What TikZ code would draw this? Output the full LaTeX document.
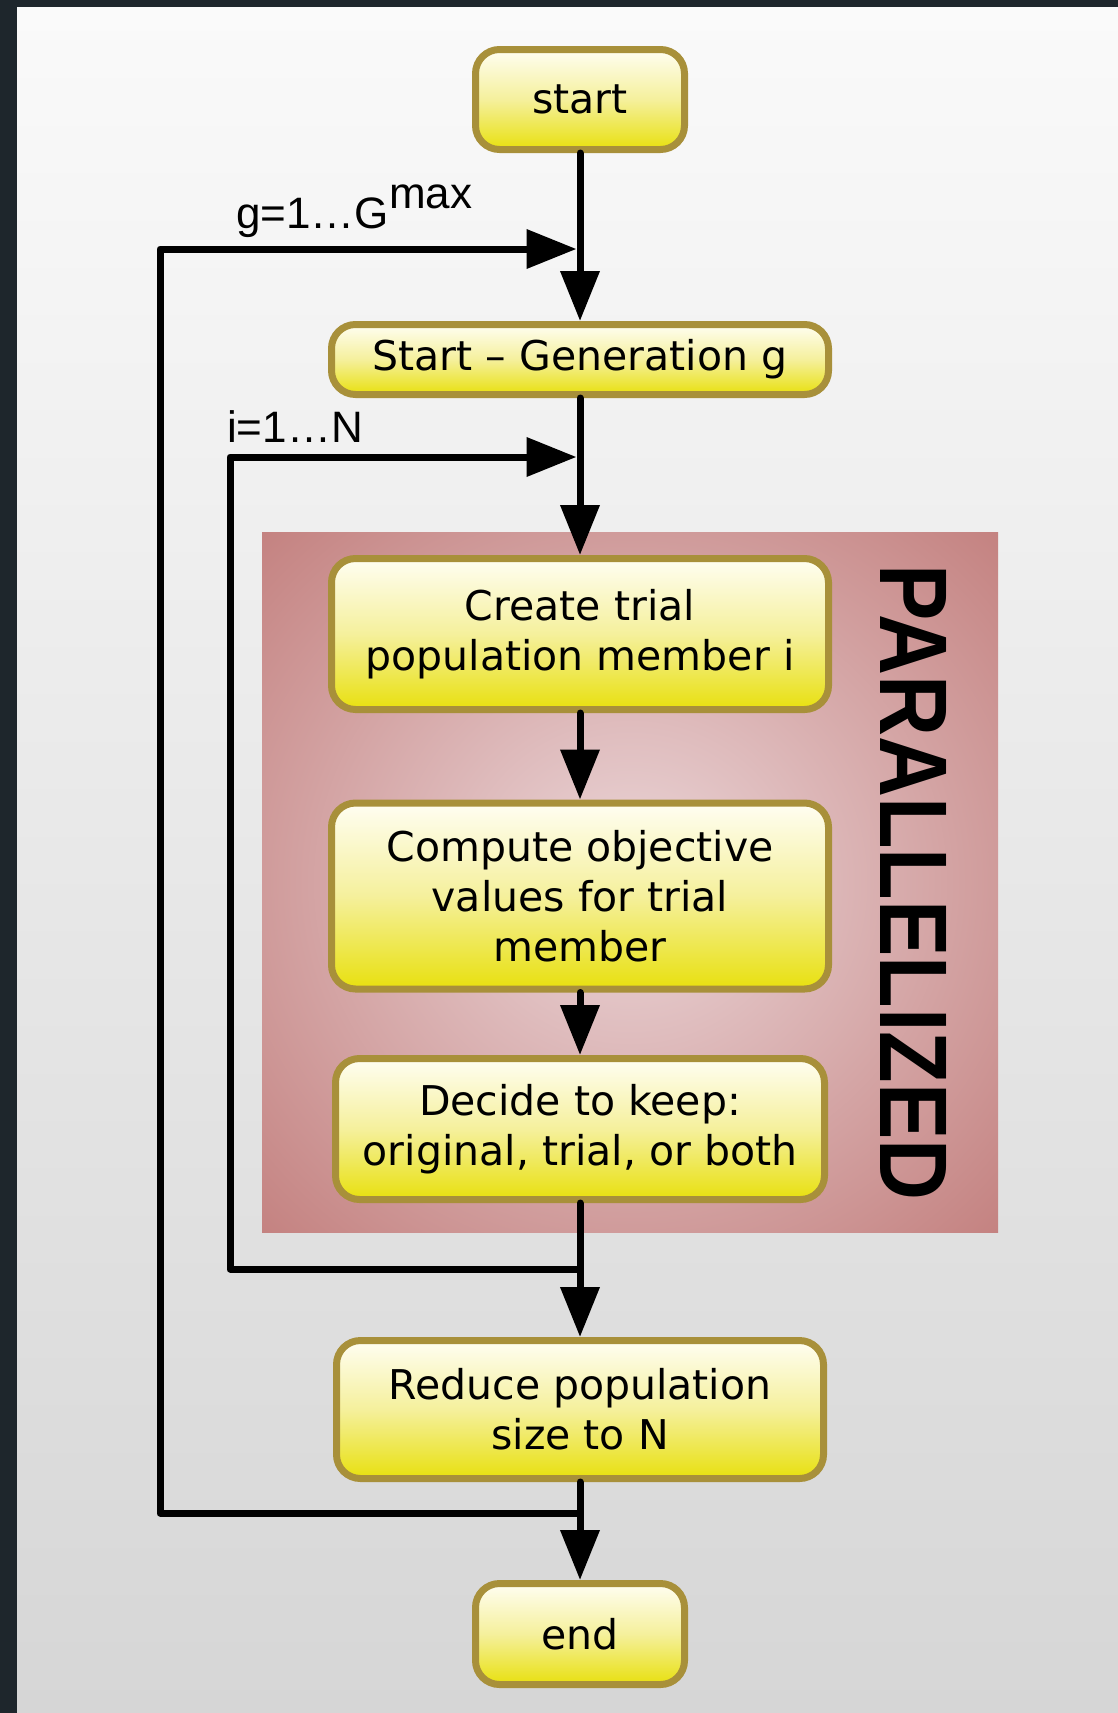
\documentclass[tikz,border=0pt]{standalone}
\usepackage{fontspec}
\usetikzlibrary{arrows.meta}
\newfontfamily\boxfont{DejaVu Sans}
\newfontfamily\labfont{Liberation Sans}
\newfontfamily\parfont[FakeStretch=0.88]{Liberation Sans}
\definecolor{framecol}{HTML}{1E262C}
\definecolor{bgtop}{HTML}{FAFAFA}
\definecolor{bgbot}{HTML}{D6D6D6}
\definecolor{parin}{HTML}{E8D0D2}
\definecolor{parout}{HTML}{BF7775}
\definecolor{boxtop}{HTML}{FFFEF2}
\definecolor{boxmid}{HTML}{F5F09C}
\definecolor{boxbot}{HTML}{E8E00E}
\definecolor{boxline}{HTML}{A8903A}
\pgfdeclareradialshading{parshade}{\pgfpoint{0bp}{0bp}}{color(0bp)=(parin); color(3bp)=(parin); color(40bp)=(parout); color(50bp)=(parout)}
\begin{document}
\begin{tikzpicture}[x=1pt,y=-1pt,
  flowbox/.style={draw=boxline, line width=7pt, rounded corners=24pt,
    top color=boxtop, bottom color=boxbot, middle color=boxmid, align=center, inner sep=0pt,
    font=\boxfont\fontsize{41}{50}\selectfont},
  conn/.style={line width=7pt, draw=black, line join=round, line cap=round},
  arr/.style={conn, -{Triangle[length=50pt,width=38pt]}},
  looplab/.style={font=\labfont\fontsize{44}{50}\selectfont, anchor=base west, inner sep=0pt}]
\useasboundingbox (0,0) rectangle (1118,1713);
\fill[framecol] (0,0) rectangle (1118,1713);
\shade[top color=bgtop, bottom color=bgbot] (17,7) rectangle (1118,1713);
\shade[shading=parshade] (262,532) rectangle (998,1232);
\node[font=\parfont\bfseries\fontsize{96}{96}\selectfont, rotate=-90, inner sep=0pt] (par) at (914,882.5) {PARALLELIZED};

\node[flowbox, minimum width=209pt, minimum height=100pt] (nstart) at (580,99.5) {start};
\node[flowbox, minimum width=497pt, minimum height=70pt] (ngen) at (580,359.5) {Start – Generation g};
\node[flowbox, minimum width=497pt, minimum height=151pt] (ncreate) at (580,634) {Create trial\\population member i};
\node[flowbox, minimum width=497pt, minimum height=186pt] (ncompute) at (580,896) {Compute objective\\values for trial\\member};
\node[flowbox, minimum width=489pt, minimum height=141pt] (ndecide) at (580,1129) {Decide to keep:\\original, trial, or both};
\node[flowbox, minimum width=487pt, minimum height=138pt] (nreduce) at (580,1409.5) {Reduce population\\size to N};
\node[flowbox, minimum width=209pt, minimum height=101pt] (nend) at (580,1634) {end};

\node[looplab] (glab) at (236,228) {g=1…G\raisebox{20pt}{max}};
\node[looplab] (ilab) at (227,442) {i=1…N};

\coordinate (jg) at (580,249);
\coordinate (ji) at (580,457);
\coordinate (jd) at (580,1269);
\coordinate (jr) at (580,1513);
\coordinate (gl) at (160,1513);
\coordinate (il) at (230,1269);

\draw[arr] (nstart) -- (ngen);
\draw[arr] (ngen) -- (ncreate);
\draw[arr] (ncreate) -- (ncompute);
\draw[arr] (ncompute) -- (ndecide);
\draw[arr] (ndecide) -- (nreduce);
\draw[arr] (nreduce) -- (nend);
\draw[arr, shorten >=3.5pt] (jr) -- (gl) |- (jg);
\draw[arr, shorten >=3.5pt] (jd) -- (il) |- (ji);
\end{tikzpicture}
\end{document}
